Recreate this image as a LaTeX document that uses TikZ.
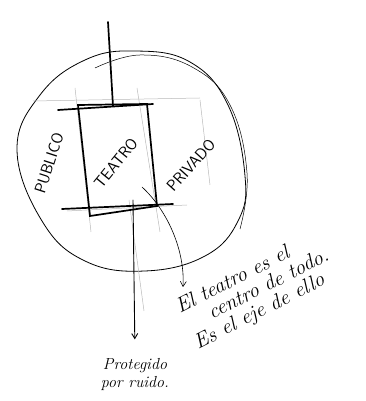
\documentclass[tikz,border=0pt]{standalone}
\usetikzlibrary{arrows.meta}

\begin{document}
\begin{tikzpicture}[x=1pt, y=1pt,
    pen/.style={black, line width=1.7pt, line cap=round},
    rim/.style={black, line width=0.8pt},
    faint/.style={gray!55, line width=0.5pt},
    caps/.style={font=\fontsize{16}{18}\selectfont\sffamily},
    hand/.style={font=\fontsize{21}{20}\selectfont\itshape, align=left},
    tip/.style={-{Straight Barb[length=5pt, width=6pt]}, line width=0.9pt}]
    \useasboundingbox (0,0) rectangle (365,401);

    % the ring round the theatre
    \draw[rim] plot[smooth cycle, tension=0.7] coordinates {(17,251) (40,306) (85,341) (135,350) (190,339) (228,296) (245,225) (238,180) (205,145) (145,130) (85,140) (42,180)};
    \draw[rim, line width=0.5pt] plot[smooth, tension=0.7] coordinates {(95,333) (140,346) (192,334) (230,296) (247,228) (240,172)};

    % corners of the box
    \coordinate (tl) at (78,296);
    \coordinate (tr) at (147,297);
    \coordinate (br) at (157,195);
    \coordinate (bl) at (90,185);

    % faint guide lines
    \draw[faint] (33,300) -- (200,303);
    \draw[faint] (67,190) -- (187,196);
    \draw[faint] (75,313) -- (91,169);
    \draw[faint] (137,313) -- (160,169);
    \draw[faint] (200,301) -- (210,216);
    \draw[faint] (129,201) -- (144,90);

    % the box
    \draw[pen] (tl) -- (tr) -- (br) -- (bl) -- cycle;
    \draw[pen] (58,291) -- (153,297);
    \draw[pen] (62,192) -- (173,197);

    \node[caps, rotate=51] (teatro) at (116,238) {TEATRO};
    \node[caps, rotate=72] (publico) at (49,238) {PUBLICO};
    \node[caps, rotate=48] (privado) at (191,236) {PRIVADO};

    \node[hand, rotate=27, anchor=base west] (centro) at (195,50) {El teatro es el\\\hspace*{26pt}centro de todo.\\Es el eje de ello};
    \node[hand, font=\fontsize{16}{18}\selectfont\itshape, align=center] (protegido) at (135,26) {Protegido\\por ruido.};

    % the axis through the box
    \coordinate (axtop) at (108,379);
    \coordinate (axin) at (113,295);
    \coordinate (axout) at (133,201);
    \coordinate (cue) at (183,114);
    \draw[pen] (axtop) -- (axin);
    \draw[pen, line width=1.4pt, tip, shorten >=16pt] (axout) -- (protegido.north);
    \draw[tip, line width=0.6pt] (142,214) .. controls (168,190) and (185,150) .. (cue);
\end{tikzpicture}
\end{document}
